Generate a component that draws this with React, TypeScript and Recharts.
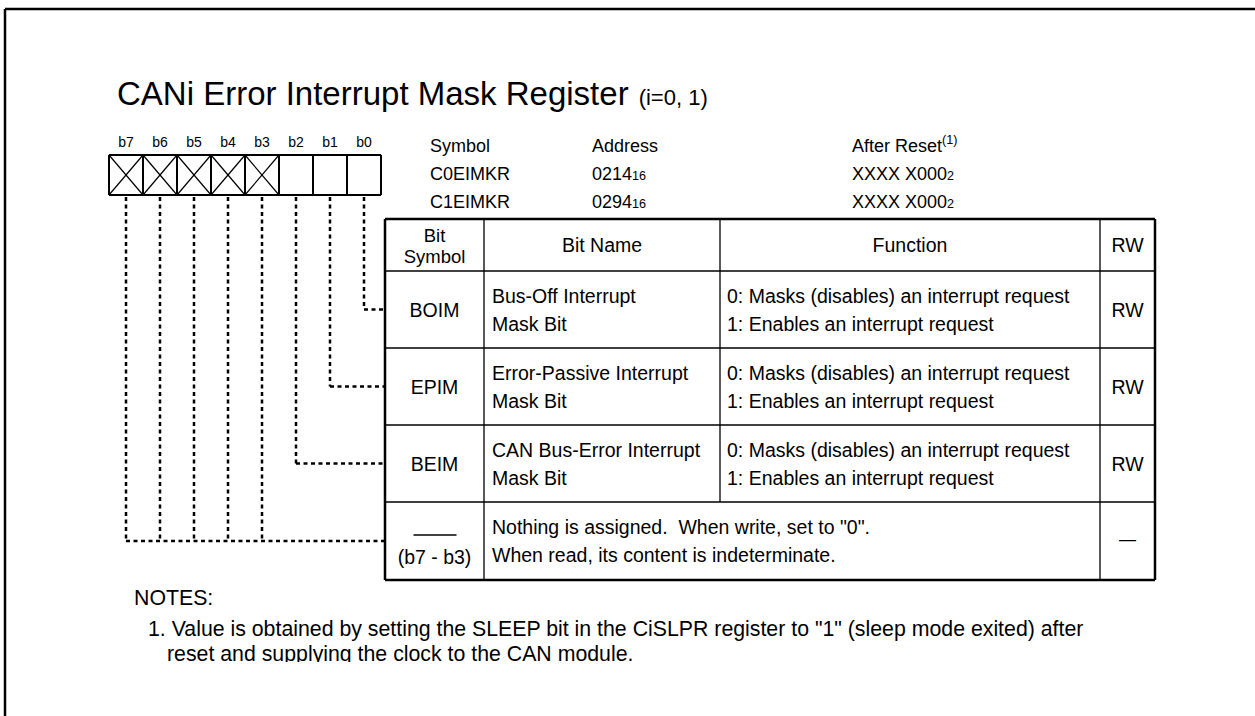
import React from 'react';
import { ScatterChart, Scatter, XAxis, YAxis, ReferenceLine } from 'recharts';

const W = 1255;
const H = 716;
const FONT = '"Liberation Sans", Arial, Helvetica, sans-serif';

// texts
const titleText = 'CANi Error Interrupt Mask Register';
const titleNote = '(i=0, 1)';
const bitLabels = ['b7', 'b6', 'b5', 'b4', 'b3', 'b2', 'b1', 'b0'];
const reservedBits = ['b7', 'b6', 'b5', 'b4', 'b3'];
const infoHeads = ['Symbol', 'Address', 'After Reset'];
const regSymbols = ['C0EIMKR', 'C1EIMKR'];
const regAddresses = ['0214', '0294'];
const regResets = ['XXXX X000', 'XXXX X000'];
const tableHeads = [['Bit', 'Symbol'], ['Bit Name'], ['Function'], ['RW']];
const bitSymbols = ['BOIM', 'EPIM', 'BEIM'];
const bitSources = ['b0', 'b1', 'b2'];
const bitNames = [
  ['Bus-Off Interrupt', 'Mask Bit'],
  ['Error-Passive Interrupt', 'Mask Bit'],
  ['CAN Bus-Error Interrupt', 'Mask Bit'],
];
const bitFunctions = ['0: Masks (disables) an interrupt request', '1: Enables an interrupt request'];
const bitRW = ['RW', 'RW', 'RW'];
const reservedSymbol = '(b7 - b3)';
const reservedText = ['Nothing is assigned.  When write, set to "0".', 'When read, its content is indeterminate.'];
const reservedRW = '\u2014';
const notesHead = 'NOTES:';
const notes = [
  '1. Value is obtained by setting the SLEEP bit in the CiSLPR register to "1" (sleep mode exited) after',
  'reset and supplying the clock to the CAN module.',
];

// layout
const boxL = 109, boxW = 34, boxT = 155, boxB = 195;
const colX = [385, 484, 720, 1100, 1155];
const rowY = [219, 271, 348, 425, 502, 580];
const infoX = [430, 592, 852];
const body = 19.5;
const noteSize = 21.3;

type Txt = {
  x: number; y: number; text: string; size: number;
  anchor?: 'start' | 'middle' | 'end';
  sub?: string; sup?: string; tail?: string; tailSize?: number; clip?: number;
};
type Seg = { x1: number; y1: number; x2: number; y2: number; w: number; dash?: string };

const bitCenter = (b: string) => boxL + boxW * (bitLabels.indexOf(b) + 0.5);
const rowCenter = (i: number) => (rowY[i + 1] + rowY[i + 2]) / 2;
const colCenter = (i: number) => (colX[i] + colX[i + 1]) / 2;

const texts: Txt[] = [];
texts.push({ x: 117, y: 105, text: titleText, size: 33, tail: titleNote, tailSize: 22 });
bitLabels.forEach((b) => texts.push({ x: bitCenter(b), y: 147, text: b, size: 14, anchor: 'middle' }));
infoHeads.forEach((h, i) => texts.push({ x: infoX[i], y: 152, text: h, size: 18, sup: i === 2 ? '(1)' : undefined }));
regSymbols.forEach((s, r) => {
  const y = 180 + r * 28;
  texts.push({ x: infoX[0], y, text: s, size: 18 });
  texts.push({ x: infoX[1], y, text: regAddresses[r], size: 18, sub: '16' });
  texts.push({ x: infoX[2], y, text: regResets[r], size: 18, sub: '2' });
});
tableHeads.forEach((lines, c) => {
  const cy = (rowY[0] + rowY[1]) / 2;
  lines.forEach((l, k) => {
    const y = lines.length === 1 ? cy + 7 : cy + 7 + (k - 0.5) * 21;
    texts.push({ x: colCenter(c), y, text: l, size: lines.length === 1 ? body : 18.5, anchor: 'middle' });
  });
});
bitSymbols.forEach((s, r) => {
  const rc = rowCenter(r);
  texts.push({ x: colCenter(0), y: rc + 7, text: s, size: body, anchor: 'middle' });
  bitNames[r].forEach((l, k) => texts.push({ x: colX[1] + 8, y: rc - 7 + k * 28, text: l, size: body }));
  bitFunctions.forEach((l, k) => texts.push({ x: colX[2] + 7, y: rc - 7 + k * 28, text: l, size: body }));
  texts.push({ x: colCenter(3), y: rc + 7, text: bitRW[r], size: body, anchor: 'middle' });
});
{
  const rc = rowCenter(3);
  texts.push({ x: colCenter(0), y: rc + 23, text: reservedSymbol, size: body, anchor: 'middle' });
  reservedText.forEach((l, k) => texts.push({ x: colX[1] + 8, y: rc - 7 + k * 28, text: l, size: body }));
  texts.push({ x: colCenter(3), y: rc + 4, text: reservedRW, size: 17, anchor: 'middle' });
}
texts.push({ x: 134, y: 605, text: notesHead, size: noteSize });
texts.push({ x: 148, y: 636, text: notes[0], size: noteSize });
texts.push({ x: 167, y: 661, text: notes[1], size: noteSize, clip: 1 });

const segs: Seg[] = [];
// outer frame
segs.push({ x1: 5, y1: 9, x2: W, y2: 9, w: 2.5 });
segs.push({ x1: 5, y1: 9, x2: 5, y2: H, w: 2.5 });
// bit boxes
const boxR = boxL + boxW * bitLabels.length;
segs.push({ x1: boxL, y1: boxT, x2: boxR, y2: boxT, w: 2 });
segs.push({ x1: boxL, y1: boxB, x2: boxR, y2: boxB, w: 2 });
bitLabels.forEach((_, i) => segs.push({ x1: boxL + boxW * i, y1: boxT, x2: boxL + boxW * i, y2: boxB, w: 2 }));
segs.push({ x1: boxR, y1: boxT, x2: boxR, y2: boxB, w: 2 });
reservedBits.forEach((b) => {
  const l = bitCenter(b) - boxW / 2, r = l + boxW;
  segs.push({ x1: l, y1: boxT, x2: r, y2: boxB, w: 1.2 });
  segs.push({ x1: l, y1: boxB, x2: r, y2: boxT, w: 1.2 });
});
// table
segs.push({ x1: colX[0], y1: rowY[0], x2: colX[4], y2: rowY[0], w: 2.5 });
segs.push({ x1: colX[0], y1: rowY[5], x2: colX[4], y2: rowY[5], w: 2.5 });
segs.push({ x1: colX[0], y1: rowY[0], x2: colX[0], y2: rowY[5], w: 2.5 });
segs.push({ x1: colX[4], y1: rowY[0], x2: colX[4], y2: rowY[5], w: 2.5 });
[1, 2, 3, 4].forEach((i) => segs.push({ x1: colX[0], y1: rowY[i], x2: colX[4], y2: rowY[i], w: 1.3 }));
segs.push({ x1: colX[1], y1: rowY[0], x2: colX[1], y2: rowY[5], w: 1.3 });
segs.push({ x1: colX[2], y1: rowY[0], x2: colX[2], y2: rowY[4], w: 1.3 });
segs.push({ x1: colX[3], y1: rowY[0], x2: colX[3], y2: rowY[5], w: 1.3 });
segs.push({ x1: colCenter(0) - 21, y1: rowCenter(3) - 6, x2: colCenter(0) + 22, y2: rowCenter(3) - 6, w: 1.3 });
// dotted leaders
const DASH = '4 3.5';
bitSources.forEach((b, r) => {
  const x = bitCenter(b), y = rowCenter(r);
  segs.push({ x1: x, y1: boxB + 2, x2: x, y2: y, w: 2.5, dash: DASH });
  segs.push({ x1: x, y1: y, x2: colX[0], y2: y, w: 2.5, dash: DASH });
});
reservedBits.forEach((b) => {
  segs.push({ x1: bitCenter(b), y1: boxB + 2, x2: bitCenter(b), y2: rowCenter(3), w: 2.5, dash: DASH });
});
segs.push({ x1: bitCenter(reservedBits[0]), y1: rowCenter(3), x2: colX[0], y2: rowCenter(3), w: 2.5, dash: DASH });

const TextMark = (props: any) => {
  const { cx, cy, payload, index } = props;
  const p = payload as Txt;
  const clipId = `clip-${index}`;
  return (
    <g>
      {p.clip !== undefined && (
        <defs>
          <clipPath id={clipId}>
            <rect x={0} y={cy - 40} width={W} height={40 + p.clip} />
          </clipPath>
        </defs>
      )}
      <text
        x={cx}
        y={cy}
        fontSize={p.size}
        fontFamily={FONT}
        fill="#000"
        textAnchor={p.anchor ?? 'start'}
        style={{ whiteSpace: 'pre' }}
        clipPath={p.clip !== undefined ? `url(#${clipId})` : undefined}
      >
        {p.text}
        {p.sub && <tspan fontSize={p.size * 0.7}>{p.sub}</tspan>}
        {p.sup && <tspan fontSize={p.size * 0.7} dy={-p.size * 0.42}>{p.sup}</tspan>}
        {p.tail && <tspan fontSize={p.tailSize} dx={10}>{p.tail}</tspan>}
      </text>
    </g>
  );
};

export default function App() {
  return (
    <div style={{ position: 'absolute', left: 0, top: 0, width: W, height: H, background: '#fff' }}>
      <ScatterChart width={W} height={H} margin={{ top: 0, right: 0, bottom: 0, left: 0 }}>
        <XAxis type="number" dataKey="x" domain={[0, W]} allowDataOverflow hide />
        <YAxis type="number" dataKey="y" domain={[0, H]} allowDataOverflow reversed hide />
        {segs.map((s, i) => (
          <ReferenceLine
            key={i}
            segment={[{ x: s.x1, y: s.y1 }, { x: s.x2, y: s.y2 }]}
            stroke="#000"
            strokeWidth={s.w}
            strokeDasharray={s.dash}
            ifOverflow="visible"
          />
        ))}
        <Scatter data={texts} shape={TextMark} isAnimationActive={false} />
      </ScatterChart>
    </div>
  );
}
